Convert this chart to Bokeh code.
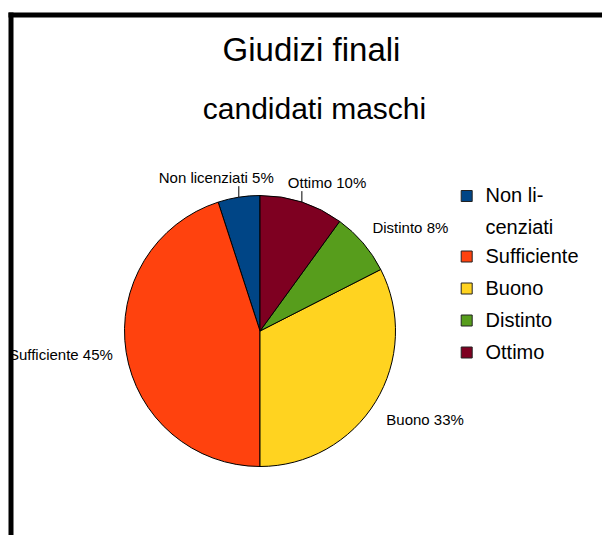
import numpy as np
from bokeh.plotting import figure
from bokeh.models import Range1d
from bokeh.core.properties import value
from bokeh.embed import file_html
from bokeh.resources import INLINE

# ---------------- data ----------------
title = "Giudizi finali"
subtitle = "candidati maschi"
categories = ["Non licenziati", "Sufficiente", "Buono", "Distinto", "Ottimo"]
counts = [2, 18, 13, 3, 4]
legend_labels = ["Non li-\ncenziati", "Sufficiente", "Buono", "Distinto", "Ottimo"]
colors = ["#004586", "#ff420e", "#ffd320", "#579d1c", "#7e0021"]

# ---------------- layout (picture pixel coordinates) ----------------
W, H = 602, 535
FONT = value("Liberation Sans")
BASE_FIX = 0.39  # baseline correction, fraction of font size


def X(px):
    return px


def Y(py):
    return H - py


CX, CY, R = 259.5, 330.5, 135.5
# per-label placement: (mode, align, dx, dy)
label_layout = {
    "Non licenziati": ("leader", "right", 35.0, -13.6),
    "Sufficiente": ("radial", "right", 1.5, 5.5),
    "Buono": ("radial", "left", -2.0, 15.3),
    "Distinto": ("radial", "left", -2.0, 0.0),
    "Ottimo": ("leader", "left", -14.0, -13.6),
}

p = figure(width=W, height=H, output_backend="svg", toolbar_location=None,
           x_range=Range1d(0, W), y_range=Range1d(0, H), min_border=0,
           background_fill_color="white", border_fill_color="white")
p.axis.visible = False
p.grid.visible = False
p.outline_line_color = None


def put_text(x, y, s, size, align):
    p.text(x=[X(x)], y=[Y(y - BASE_FIX * size)], text=[s], text_font=FONT,
           text_font_size=f"{size}px", text_align=align, text_baseline="alphabetic",
           text_color="black")


# ---------------- pie ----------------
vals = np.array(counts, dtype=float)
frac = vals / vals.sum()
cum = np.concatenate([[0.0], np.cumsum(frac)[:-1]])
start = np.pi / 2 + 2 * np.pi * cum
end = start + 2 * np.pi * frac

p.wedge(x=[X(CX)] * len(vals), y=[Y(CY)] * len(vals), radius=R,
        start_angle=list(start), end_angle=list(end), direction="anticlock",
        fill_color=colors, line_color="black", line_width=1)

# ---------------- slice labels ----------------
pct = [int(np.floor(f * 100 + 0.5)) for f in frac]
for i, cat in enumerate(categories):
    mid = (start[i] + end[i]) / 2
    mode, align, dx, dy = label_layout[cat]
    ex = CX + R * np.cos(mid)
    ey = CY - R * np.sin(mid)
    if mode == "leader":
        p.line([X(ex), X(ex)], [Y(ey), Y(ey - 11)], line_color="black", line_width=1)
        tx, ty = ex + dx, ey + dy
    else:
        tx = CX + (R + 15) * np.cos(mid) + dx
        ty = CY - (R + 15) * np.sin(mid) + dy
    put_text(tx, ty, f"{cat} {pct[i]}%", 15, align)

# ---------------- titles ----------------
put_text(311, 62, title, 33, "center")
put_text(314, 119.5, subtitle, 30, "center")

# ---------------- legend ----------------
LEG_SQ_X, LEG_TXT_X, LEG_Y0 = 466.2, 485, 195.5
ENTRY_STEP, LINE_STEP = 32.0, 28.5
yc = LEG_Y0
for i, lab in enumerate(legend_labels):
    lines = lab.split("\n")
    p.rect(x=[X(LEG_SQ_X)], y=[Y(yc)], width=11, height=11, fill_color=colors[i],
           line_color="#222222", line_width=1)
    for k, ln in enumerate(lines):
        put_text(LEG_TXT_X, yc + 7.2 + k * 31.5, ln, 20, "left")
    yc += ENTRY_STEP + (len(lines) - 1) * LINE_STEP

# ---------------- frame border (top and left edges) ----------------
p.quad(left=[X(8)], right=[X(602)], top=[Y(12)], bottom=[Y(17)], fill_color="black", line_color=None)
p.quad(left=[X(8)], right=[X(13)], top=[Y(12)], bottom=[Y(535)], fill_color="black", line_color=None)

open("out.html", "w").write(file_html(p, INLINE))
